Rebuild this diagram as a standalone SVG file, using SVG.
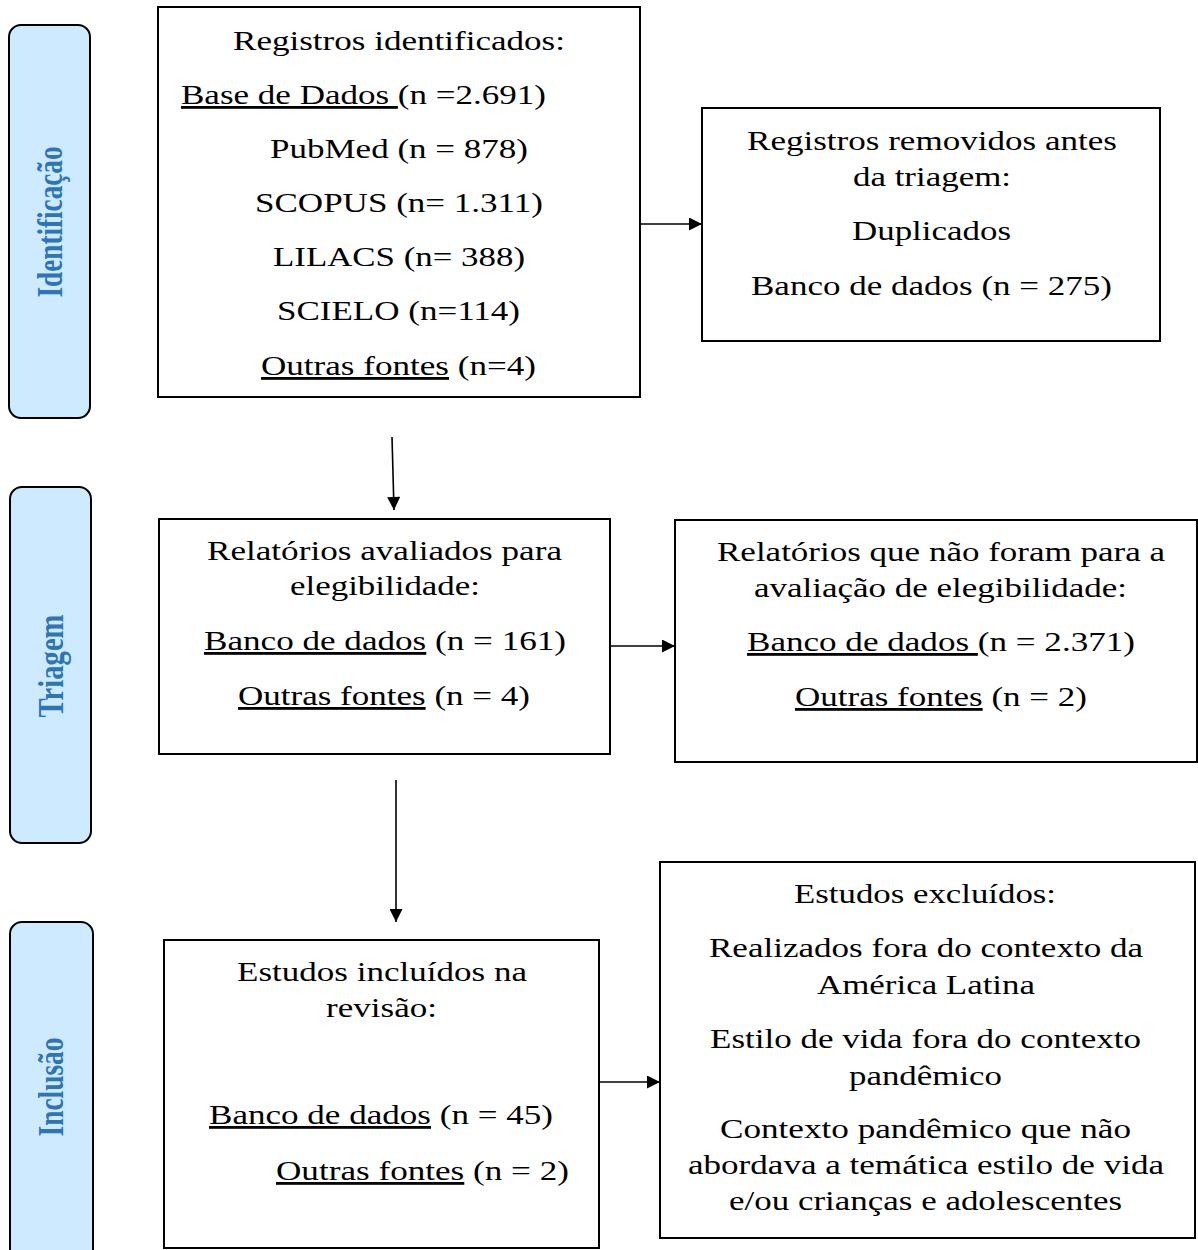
<svg xmlns="http://www.w3.org/2000/svg" width="1198" height="1250" viewBox="0 0 1198 1250">
<defs>
<marker id="ah" viewBox="0 0 10 10" refX="10" refY="5" markerWidth="15" markerHeight="13" markerUnits="userSpaceOnUse" orient="auto">
<path d="M0,0 L10,5 L0,10 Z" fill="#000"/>
</marker>
<style>
.box{fill:#fff;stroke:#000;stroke-width:2}
.side{fill:#cdeaff;stroke:#000;stroke-width:2}
.t{font-size:28px;fill:#000}
.s{font-size:35px;font-weight:bold;fill:#2e75b6}
.u{text-decoration:underline}
.c{stroke:#000;stroke-width:1.6;fill:none}
</style>
</defs>
<rect width="1198" height="1250" fill="#fff"/>

<g font-family="'Liberation Serif', Tinos, 'Times New Roman', Times, serif">
<g id="stage-identificacao">
<rect class="side" x="9" y="25" width="81" height="393" rx="12"/>
<text class="s" transform="translate(62,222) rotate(-90)" text-anchor="middle" textLength="151" lengthAdjust="spacingAndGlyphs">Identificação</text>
</g>
<g id="stage-triagem">
<rect class="side" x="10" y="487" width="81" height="356" rx="12"/>
<text class="s" transform="translate(63,666) rotate(-90)" text-anchor="middle" textLength="103" lengthAdjust="spacingAndGlyphs">Triagem</text>
</g>
<g id="stage-inclusao">
<rect class="side" x="10" y="922" width="83" height="345" rx="12"/>
<text class="s" transform="translate(63,1087) rotate(-90)" text-anchor="middle" textLength="99" lengthAdjust="spacingAndGlyphs">Inclusão</text>
</g>

<g id="registros-identificados">
<rect class="box" x="158" y="7" width="482" height="390"/>
<text class="t" x="233" y="50" textLength="332" lengthAdjust="spacingAndGlyphs">Registros identificados:</text>
<text class="t" x="181" y="104" textLength="365" lengthAdjust="spacingAndGlyphs"><tspan class="u">Base de Dados </tspan>(n =2.691)</text>
<text class="t" x="270" y="158" textLength="258" lengthAdjust="spacingAndGlyphs">PubMed (n = 878)</text>
<text class="t" x="255" y="212" textLength="288" lengthAdjust="spacingAndGlyphs">SCOPUS (n= 1.311)</text>
<text class="t" x="273" y="266" textLength="252" lengthAdjust="spacingAndGlyphs">LILACS (n= 388)</text>
<text class="t" x="277" y="320" textLength="243" lengthAdjust="spacingAndGlyphs">SCIELO (n=114)</text>
<text class="t" x="261" y="375" textLength="275" lengthAdjust="spacingAndGlyphs"><tspan class="u">Outras fontes</tspan> (n=4)</text>
</g>

<g id="registros-removidos">
<rect class="box" x="702" y="108" width="458" height="233"/>
<text class="t" x="747" y="150" textLength="370" lengthAdjust="spacingAndGlyphs">Registros removidos antes</text>
<text class="t" x="853" y="186" textLength="158" lengthAdjust="spacingAndGlyphs">da triagem:</text>
<text class="t" x="852" y="240" textLength="159" lengthAdjust="spacingAndGlyphs">Duplicados</text>
<text class="t" x="751" y="295" textLength="361" lengthAdjust="spacingAndGlyphs">Banco de dados (n = 275)</text>
</g>

<g id="relatorios-avaliados">
<rect class="box" x="159" y="519" width="451" height="235"/>
<text class="t" x="207" y="560" textLength="355" lengthAdjust="spacingAndGlyphs">Relatórios avaliados para</text>
<text class="t" x="290" y="595" textLength="190" lengthAdjust="spacingAndGlyphs">elegibilidade:</text>
<text class="t" x="204" y="650" textLength="362" lengthAdjust="spacingAndGlyphs"><tspan class="u">Banco de dados</tspan> (n = 161)</text>
<text class="t" x="238" y="705" textLength="292" lengthAdjust="spacingAndGlyphs"><tspan class="u">Outras fontes</tspan> (n = 4)</text>
</g>

<g id="relatorios-nao-avaliados">
<rect class="box" x="675" y="520" width="522" height="242"/>
<text class="t" x="717" y="561" textLength="448" lengthAdjust="spacingAndGlyphs">Relatórios que não foram para a</text>
<text class="t" x="754" y="597" textLength="373" lengthAdjust="spacingAndGlyphs">avaliação de elegibilidade:</text>
<text class="t" x="747" y="651" textLength="388" lengthAdjust="spacingAndGlyphs"><tspan class="u">Banco de dados </tspan>(n = 2.371)</text>
<text class="t" x="795" y="706" textLength="292" lengthAdjust="spacingAndGlyphs"><tspan class="u">Outras fontes</tspan> (n = 2)</text>
</g>

<g id="estudos-incluidos">
<rect class="box" x="164" y="940" width="435" height="308"/>
<text class="t" x="237" y="981" textLength="290" lengthAdjust="spacingAndGlyphs">Estudos incluídos na</text>
<text class="t" x="326" y="1017" textLength="111" lengthAdjust="spacingAndGlyphs">revisão:</text>
<text class="t" x="209" y="1124" textLength="344" lengthAdjust="spacingAndGlyphs"><tspan class="u">Banco de dados</tspan> (n = 45)</text>
<text class="t" x="276" y="1180" textLength="293" lengthAdjust="spacingAndGlyphs"><tspan class="u">Outras fontes</tspan> (n = 2)</text>
</g>

<g id="estudos-excluidos">
<rect class="box" x="660" y="862" width="535" height="376"/>
<text class="t" x="794" y="903" textLength="262" lengthAdjust="spacingAndGlyphs">Estudos excluídos:</text>
<text class="t" x="709" y="957" textLength="434" lengthAdjust="spacingAndGlyphs">Realizados fora do contexto da</text>
<text class="t" x="817" y="994" textLength="218" lengthAdjust="spacingAndGlyphs">América Latina</text>
<text class="t" x="710" y="1048" textLength="431" lengthAdjust="spacingAndGlyphs">Estilo de vida fora do contexto</text>
<text class="t" x="849" y="1085" textLength="153" lengthAdjust="spacingAndGlyphs">pandêmico</text>
<text class="t" x="720" y="1138" textLength="411" lengthAdjust="spacingAndGlyphs">Contexto pandêmico que não</text>
<text class="t" x="688" y="1174" textLength="476" lengthAdjust="spacingAndGlyphs">abordava a temática estilo de vida</text>
<text class="t" x="729" y="1210" textLength="393" lengthAdjust="spacingAndGlyphs">e/ou crianças e adolescentes</text>
</g>
</g>

<g id="connectors">
<line class="c" x1="640" y1="224" x2="702" y2="224" marker-end="url(#ah)"/>
<line class="c" x1="392" y1="437" x2="394" y2="510" marker-end="url(#ah)"/>
<line class="c" x1="610" y1="646" x2="675" y2="646" marker-end="url(#ah)"/>
<line class="c" x1="396" y1="780" x2="396" y2="922" marker-end="url(#ah)"/>
<line class="c" x1="599" y1="1082" x2="660" y2="1082" marker-end="url(#ah)"/>
</g>
</svg>
